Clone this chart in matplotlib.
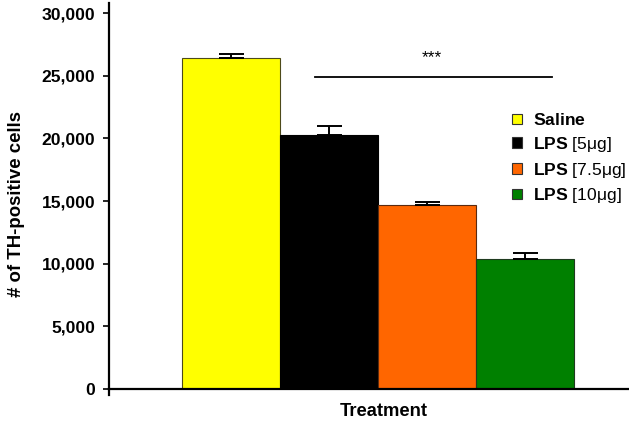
import matplotlib
matplotlib.use('Agg')
import matplotlib.pyplot as plt
from matplotlib.patches import Patch
from matplotlib.ticker import FuncFormatter

plt.rcParams['font.family'] = ['Liberation Sans', 'DejaVu Sans']
plt.rcParams['mathtext.fontset'] = 'custom'
plt.rcParams['mathtext.bf'] = 'Liberation Sans:bold'
plt.rcParams['mathtext.rm'] = 'Liberation Sans'

# data
groups = ['Saline', 'LPS [5μg]', 'LPS [7.5μg]', 'LPS [10μg]']
legend_labels = [r'$\bf{Saline}$', r'$\bf{LPS}$ [5μg]', r'$\bf{LPS}$ [7.5μg]', r'$\bf{LPS}$ [10μg]']
means = [26420, 20255, 14650, 10370]
errors = [290, 700, 290, 450]
colors = ['#FFFF00', '#000000', '#FF6600', '#008000']
edges = ['#4d4a1a', '#000000', '#5a2a10', '#1f3a1f']

fig = plt.figure(figsize=(6.29, 4.21), dpi=100)
ax = fig.add_axes([109 / 629, 32 / 421, 1 - 109 / 629, 386 / 421])

x = list(range(len(groups)))
ax.bar(x, means, width=1.0, color=colors, edgecolor=edges, linewidth=0.8, zorder=2)
ax.errorbar(x, means, yerr=[[0] * len(errors), errors], fmt='none', ecolor='black',
            elinewidth=1.4, capsize=9, capthick=1.4, zorder=3)

ax.set_xlim(-1.245, 4.06)
ax.set_ylim(0, 30800)
ax.set_yticks(range(0, 30001, 5000))
ax.yaxis.set_major_formatter(FuncFormatter(lambda v, p: f'{int(v):,}'))
ax.set_xticks([])

for s in ['top', 'right']:
    ax.spines[s].set_visible(False)
for s in ['left', 'bottom']:
    ax.spines[s].set_linewidth(1.6)
ax.tick_params(axis='y', direction='out', length=4, width=1.2, pad=6)
for lab in ax.get_yticklabels():
    lab.set_fontweight('bold')
    lab.set_fontsize(12.6)

# little stub below the axis corner
ax.plot([0, 0], [0, -0.015], transform=ax.transAxes, color='black', lw=1.6, clip_on=False)

ax.set_ylabel('# of TH-positive cells', fontsize=13.4, fontweight='bold')
ax.yaxis.set_label_coords(-0.162, 0.478)
ax.set_xlabel('Treatment', fontsize=13.2, fontweight='bold')
ax.xaxis.set_label_coords(0.528, -0.035)

# significance line
ax.plot([0.857, 3.276], [24880, 24880], color='black', lw=1.3)
ax.text(2.05, 26450, '***', ha='center', va='center', fontsize=12.5)

handles = [Patch(facecolor=c, edgecolor='#333333', linewidth=0.8) for c in colors]
ax.legend(handles, legend_labels, loc='upper left', bbox_to_anchor=(0.775, 0.717),
          frameon=False, fontsize=12.6, handlelength=0.57, handleheight=0.57,
          handletextpad=0.65, labelspacing=0.38, borderaxespad=0, borderpad=0)

fig.savefig('out.png', dpi=100)
